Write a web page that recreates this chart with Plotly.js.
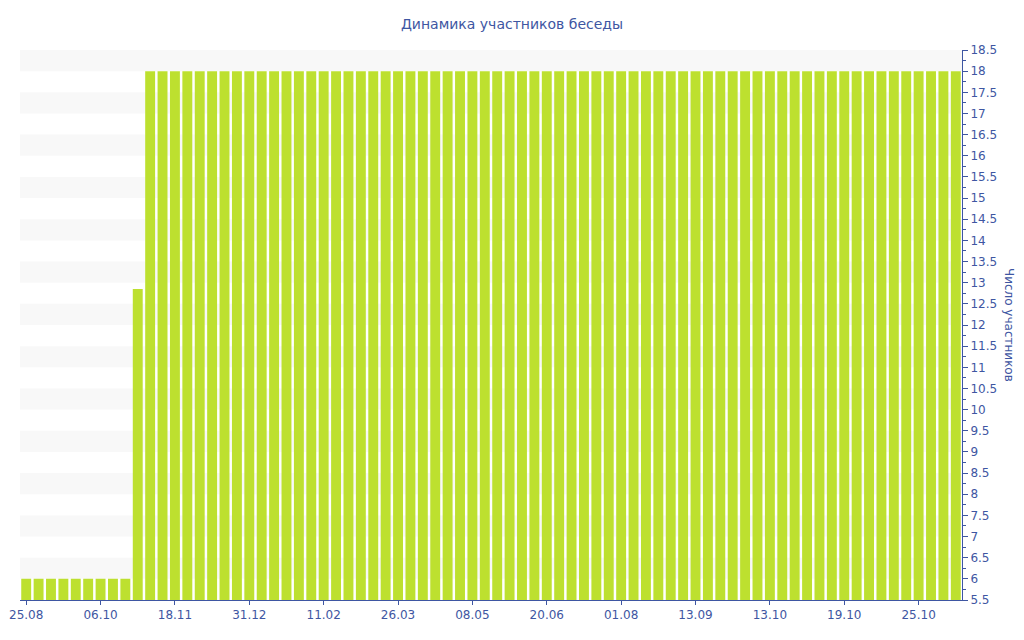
<!DOCTYPE html>
<html>
<head>
<meta charset="utf-8">
<script src="https://cdn.plot.ly/plotly-3.0.1.min.js"></script>
<style>html,body{margin:0;padding:0;background:#fff;}#chart{width:1024px;height:640px;}</style>
</head>
<body>
<div id="chart"></div>
<script>
const categories = [
  "25.08.2018","01.09.2018","08.09.2018","15.09.2018","22.09.2018","29.09.2018",
  "06.10.2018","13.10.2018","20.10.2018","27.10.2018","03.11.2018","10.11.2018",
  "18.11.2018","25.11.2018","02.12.2018","09.12.2018","16.12.2018","23.12.2018",
  "31.12.2018","07.01.2019","14.01.2019","21.01.2019","28.01.2019","04.02.2019",
  "11.02.2019","18.02.2019","25.02.2019","04.03.2019","11.03.2019","18.03.2019",
  "26.03.2019","02.04.2019","09.04.2019","16.04.2019","23.04.2019","30.04.2019",
  "08.05.2019","15.05.2019","22.05.2019","29.05.2019","05.06.2019","12.06.2019",
  "20.06.2019","27.06.2019","04.07.2019","11.07.2019","18.07.2019","25.07.2019",
  "01.08.2019","08.08.2019","15.08.2019","22.08.2019","29.08.2019","05.09.2019",
  "13.09.2019","18.09.2019","23.09.2019","28.09.2019","03.10.2019","08.10.2019",
  "13.10.2019","14.10.2019","15.10.2019","16.10.2019","17.10.2019","18.10.2019",
  "19.10.2019","20.10.2019","21.10.2019","22.10.2019","23.10.2019","24.10.2019",
  "25.10.2019","26.10.2019","27.10.2019","28.10.2019"
];
const participants = [
  6,6,6,6,6,6,6,6,6,12.85,18,18,
  18,18,18,18,18,18,18,18,18,18,18,18,
  18,18,18,18,18,18,18,18,18,18,18,18,
  18,18,18,18,18,18,18,18,18,18,18,18,
  18,18,18,18,18,18,18,18,18,18,18,18,
  18,18,18,18,18,18,18,18,18,18,18,18,
  18,18,18,18
];
const tickVals = [
  "25.08.2018","06.10.2018","18.11.2018","31.12.2018","11.02.2019","26.03.2019",
  "08.05.2019","20.06.2019","01.08.2019","13.09.2019","13.10.2019","19.10.2019","25.10.2019"
];
const tickLabels = ["25.08","06.10","18.11","31.12","11.02","26.03","08.05","20.06","01.08","13.09","13.10","19.10","25.10"];
const bandStarts = [6,7,8,9,10,11,12,13,14,15,16,17,18];

const textColor = "#3e56a2";
const font = "DejaVu Sans, Verdana, sans-serif";

const shapes = bandStarts.map(v => ({
  type: "rect", xref: "paper", yref: "y", x0: 0, x1: 1, y0: v, y1: v + 0.5,
  fillcolor: "#f8f8f8", line: {width: 0}, layer: "below"
}));

const data = [{
  type: "bar",
  x: categories,
  y: participants,
  marker: {color: "#bde02f"},
  hoverinfo: "x+y"
}];

const layout = {
  width: 1024, height: 640,
  margin: {l: 20, r: 62, t: 50, b: 40},
  paper_bgcolor: "#fff", plot_bgcolor: "#fff",
  font: {family: font, color: textColor, size: 12},
  title: {text: "Динамика участников беседы", x: 0.5, xanchor: "center", y: 0.963, yanchor: "middle",
          font: {family: font, size: 14, color: textColor}},
  bargap: 0.2,
  showlegend: false,
  xaxis: {
    type: "category",
    tickmode: "array", tickvals: tickVals, ticktext: tickLabels,
    ticks: "outside", ticklen: 4, tickcolor: textColor,
    showline: true, linecolor: textColor, linewidth: 1,
    showgrid: false, zeroline: false,
    tickfont: {family: font, size: 12, color: textColor},
    range: [-0.5, categories.length - 0.5]
  },
  yaxis: {
    side: "right",
    range: [5.5, 18.5],
    dtick: 0.5, tick0: 5.5,
    ticks: "outside", ticklen: 5, tickcolor: textColor,
    minor: {dtick: 0.25, ticks: "outside", ticklen: 3, tickcolor: textColor, showgrid: false},
    showline: true, linecolor: textColor, linewidth: 1,
    showgrid: false, zeroline: false,
    tickfont: {family: font, size: 12, color: textColor}
  },
  shapes: shapes,
  annotations: [{
    text: "Число участников", xref: "paper", yref: "paper", x: 1.05, y: 0.5,
    xanchor: "center", yanchor: "middle", textangle: 90, showarrow: false,
    font: {family: font, size: 12, color: textColor}
  }]
};

Plotly.newPlot("chart", data, layout, {displayModeBar: false, staticPlot: true});
</script>
</body>
</html>
